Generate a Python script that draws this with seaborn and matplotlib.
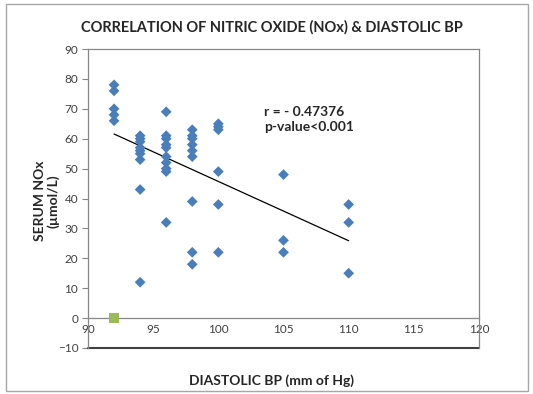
import pandas as pd
import numpy as np
import matplotlib.pyplot as plt
import seaborn as sns
from matplotlib.patches import Rectangle

# diastolic BP (x) and serum NOx (y)
bp_92 = [78, 76, 70, 68, 66]
bp_94 = [61, 60, 59, 57, 56, 55, 53, 43, 12]
bp_96 = [69, 61, 60, 58, 57, 54, 52, 50, 49, 32]
bp_98 = [63, 61, 60, 58, 56, 54, 39, 22, 18]
bp_100 = [65, 64, 63, 49, 38, 22]
bp_105 = [48, 26, 22]
bp_110 = [38, 32, 15]

groups = {92: bp_92, 94: bp_94, 96: bp_96, 98: bp_98, 100: bp_100, 105: bp_105, 110: bp_110}
data = pd.DataFrame([(k, v) for k, vals in groups.items() for v in vals], columns=['BP', 'NOx'])

extra_x = [92]
extra_y = [0]

x_ticks = [90, 95, 100, 105, 110, 115, 120]
y_ticks = [-10, 0, 10, 20, 30, 40, 50, 60, 70, 80, 90]

sns.set_style("white")
plt.rcParams['font.family'] = ['Lato', 'DejaVu Sans']

fig = plt.figure(figsize=(5.33, 3.94), dpi=100)
ax = fig.add_axes([88 / 533, 1 - 348 / 394, (479 - 88) / 533, (348 - 49) / 394])

sns.scatterplot(x='BP', y='NOx', data=data, marker='D', s=30, color='#4a7ebb',
                edgecolor='none', ax=ax, zorder=3)
sns.scatterplot(x=extra_x, y=extra_y, marker='s', s=45, color='#9bbb59',
                edgecolor='none', ax=ax, zorder=3, clip_on=False)
sns.regplot(x='BP', y='NOx', data=data, scatter=False, ci=None, ax=ax,
            line_kws={'color': 'black', 'lw': 0.9})

ax.set_xlim(90, 120)
ax.set_ylim(-10, 90)
ax.set_xticks(x_ticks)
ax.set_yticks(y_ticks)

ax.spines['bottom'].set_position(('data', 0))
for s in ['left', 'bottom', 'top', 'right']:
    ax.spines[s].set_color('#868686')
    ax.spines[s].set_linewidth(0.9)
ax.axhline(-10, color='#404040', lw=1.5, clip_on=False)

ax.tick_params(axis='x', direction='inout', length=4, width=0.8, colors='#868686',
               labelcolor='#404040', labelsize=8.5, pad=2)
ax.tick_params(axis='y', direction='out', length=4, width=0.8, colors='#868686',
               labelcolor='#404040', labelsize=8.5, pad=3, left=True)

ax.set_xlabel('')
ax.set_ylabel('')
fig.text(0.51, 0.035, 'DIASTOLIC BP (mm of Hg)', ha='center', va='center',
         fontsize=10, fontweight='bold')
fig.text(0.088, 0.49, 'SERUM NOx\n(µmol/L)', ha='center', va='center', rotation=90,
         fontsize=10, fontweight='bold', linespacing=1.05)
fig.text(0.51, 0.93, 'CORRELATION OF NITRIC OXIDE (NOx) & DIASTOLIC BP', ha='center',
         va='center', fontsize=10.5, fontweight='bold')
ax.text(103.5, 66.5, 'r = - 0.47376\np-value<0.001', ha='left', va='center',
        fontsize=10, fontweight='bold', linespacing=1.35)

fig.patches.append(Rectangle((6 / 533, 1 - 391 / 394), 522 / 533, 387 / 394,
                             transform=fig.transFigure, fill=False,
                             edgecolor='#a6a6a6', lw=1))

fig.savefig('out.png', dpi=100)
